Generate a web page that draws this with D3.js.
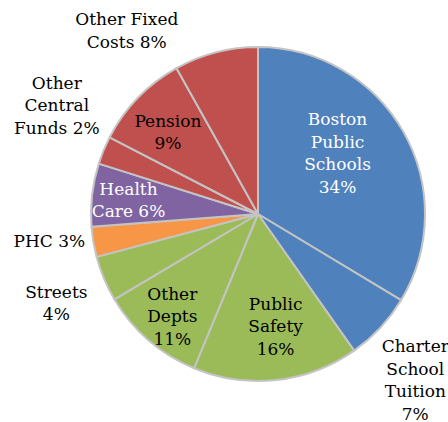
<!DOCTYPE html>
<html>
<head>
<meta charset="utf-8">
<script src="https://cdn.jsdelivr.net/npm/d3@7"></script>
<style>
  body { margin: 0; background: #fff; }
  svg text { font-family: 'DejaVu Serif', serif; font-size: 17px; }
</style>
</head>
<body>
<svg id="chart"></svg>
<script>
// slice names, split into label lines
const categories = [
  ['Boston', 'Public', 'Schools'],
  ['Charter', 'School', 'Tuition'],
  ['Public', 'Safety'],
  ['Other', 'Depts'],
  ['Streets'],
  ['PHC'],
  ['Health', 'Care'],
  ['Other', 'Central', 'Funds'],
  ['Pension'],
  ['Other Fixed', 'Costs']
];
// slice shares
const values = [33.6, 6.6, 16.0, 10.2, 4.4, 2.9, 6.1, 2.7, 9.3, 8.1];
// percentages printed in the labels
const pctLabels = ['34%', '7%', '16%', '11%', '4%', '3%', '6%', '2%', '9%', '8%'];
// how the percentage joins the name: own line or end of last line
const pctOwnLine = [true, true, true, true, true, false, false, false, true, false];
const colors = ['#4F81BD', '#4F81BD', '#9BBB59', '#9BBB59', '#9BBB59', '#F79646',
                '#8064A2', '#C0504D', '#C0504D', '#C0504D'];
const textColors = ['#fff', '#000', '#000', '#000', '#000', '#000', '#fff', '#000', '#000', '#000'];
// label placement: [angle nudge in degrees, distance as share of radius]
const labelPlace = [[-8, 0.60], [3.6, 1.37], [-2.6, 0.68], [-1, 0.80], [-1, 1.32],
                    [2.3, 1.26], [-0.5, 0.78], [6, 1.37], [-1.7, 0.73], [-21, 1.35]];

const width = 448, height = 422;
const cx = 258, cy = 214, radius = 167;
const lineH = 22.5;

const svg = d3.select('#chart')
    .attr('width', width)
    .attr('height', height);

const g = svg.append('g')
    .attr('transform', `translate(${cx},${cy})`);

const pie = d3.pie().sort(null).value(d => d);
const arcs = pie(values);

const arc = d3.arc().innerRadius(0).outerRadius(radius);

g.selectAll('path.slice')
  .data(arcs)
  .join('path')
    .attr('class', 'slice')
    .attr('d', arc)
    .attr('fill', (d, i) => colors[i])
    .attr('stroke', '#C4C4C4')
    .attr('stroke-width', 2)
    .attr('stroke-linejoin', 'round');

// label lines
const labels = g.selectAll('text.label')
  .data(arcs)
  .join('text')
    .attr('class', 'label')
    .attr('text-anchor', 'middle')
    .attr('fill', (d, i) => textColors[i])
    .each(function(d, i) {
      const mid = (d.startAngle + d.endAngle) / 2 + labelPlace[i][0] * Math.PI / 180;
      const dist = labelPlace[i][1] * radius;
      const x = Math.sin(mid) * dist;
      const y = -Math.cos(mid) * dist;
      let lines = categories[i].slice();
      if (pctOwnLine[i]) lines.push(pctLabels[i]);
      else lines[lines.length - 1] += ' ' + pctLabels[i];
      const y0 = y - (lines.length - 1) * lineH / 2;
      const t = d3.select(this);
      lines.forEach((ln, k) => {
        t.append('tspan')
          .attr('x', x)
          .attr('y', y0 + k * lineH)
          .attr('dy', '0.35em')
          .text(ln);
      });
    });
</script>
</body>
</html>
